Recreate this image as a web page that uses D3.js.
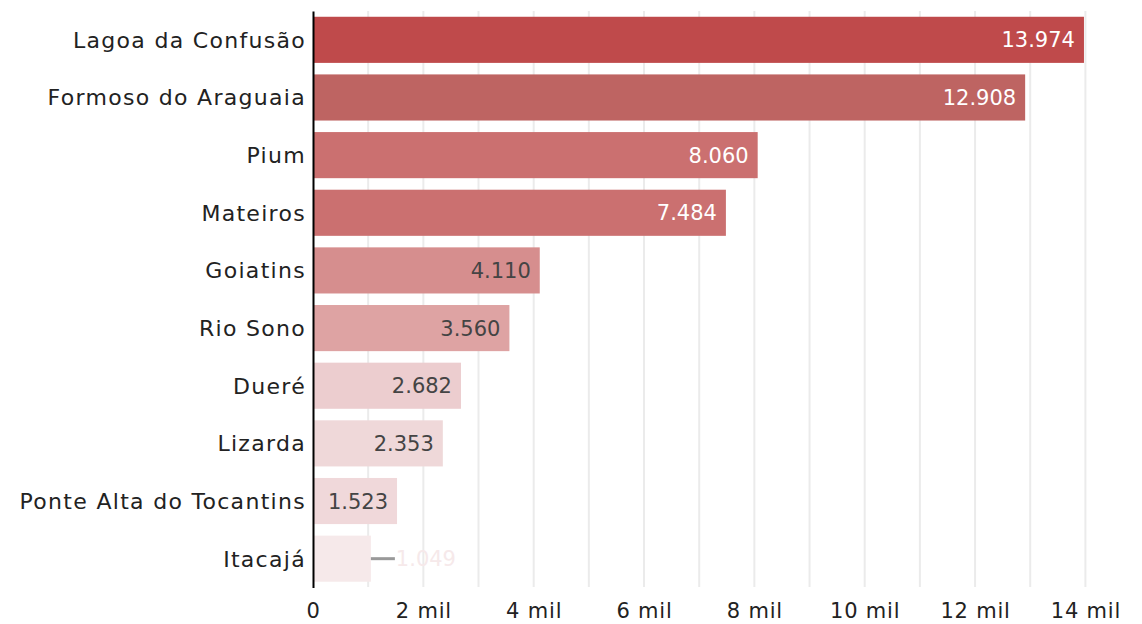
<!DOCTYPE html>
<html><head><meta charset="utf-8">
<script src="https://cdn.jsdelivr.net/npm/d3@7"></script>
<style>html,body{margin:0;padding:0;background:#fff;}svg{display:block;font-family:"DejaVu Sans",sans-serif;}</style>
</head><body>
<svg id="c" width="1142" height="624"></svg>
<script>
const categories = ["Lagoa da Confusão","Formoso do Araguaia","Pium","Mateiros","Goiatins","Rio Sono","Dueré","Lizarda","Ponte Alta do Tocantins","Itacajá"];
const values = [13974,12908,8060,7484,4110,3560,2682,2353,1523,1049];
const tickValues = [0,2000,4000,6000,8000,10000,12000,14000];
const tickLabels = ["0","2 mil","4 mil","6 mil","8 mil","10 mil","12 mil","14 mil"];
const palette = ["#bf4a4b","#be6462","#cb7070","#cb7070","#d68e8e","#dea3a3","#eccdcf","#efd8d9","#f0d8da","#f6e9ea"];

const FONT = "'DejaVu Sans',sans-serif";
const svg = d3.select("#c");
const x = d3.scaleLinear().domain([0,14000]).range([313,1085.4]);
const y = d3.scaleBand().domain(categories).range([11,587.5]).paddingInner(0.2).paddingOuter(0.1);
const fmt = v => d3.format(",")(v).replace(/,/g,".");

// grid
svg.append("g").selectAll("line").data(d3.range(1000,14001,1000)).join("line")
  .attr("x1",d=>x(d)).attr("x2",d=>x(d)).attr("y1",11).attr("y2",587)
  .attr("stroke","#ebebeb").attr("stroke-width",2);

// bars
svg.append("g").selectAll("rect").data(values).join("rect")
  .attr("x",x(0)).attr("y",(d,i)=>y(categories[i]))
  .attr("width",d=>x(d)-x(0)).attr("height",y.bandwidth())
  .attr("fill",(d,i)=>palette[i]);

// value labels
const lab = svg.append("g").attr("font-size",21).attr("font-family",FONT);
values.forEach((v,i)=>{
  const cy = y(categories[i]) + y.bandwidth()/2;
  const w = x(v)-x(0);
  if (w > 70) {
    lab.append("text").attr("x",x(v)-9).attr("y",cy).attr("dy","0.36em")
      .attr("text-anchor","end").attr("fill", i<4 ? "#ffffff" : "#444444").text(fmt(v));
  } else {
    lab.append("line").attr("x1",x(v)).attr("x2",x(v)+24).attr("y1",cy).attr("y2",cy)
      .attr("stroke","#999").attr("stroke-width",3);
    lab.append("text").attr("x",x(v)+25).attr("y",cy).attr("dy","0.36em")
      .attr("text-anchor","start").attr("fill",palette[i]).text(fmt(v));
  }
});

// y axis
const ya = svg.append("g").attr("transform",`translate(${x(0)},0)`)
  .call(d3.axisLeft(y).tickSize(0).tickPadding(7));
ya.select(".domain").attr("stroke","#000").attr("stroke-width",2);
ya.selectAll("text").attr("font-size",22).attr("letter-spacing","1.3px").attr("fill","#222")
  .attr("font-family",FONT).attr("dy","0.36em");

// x axis
const xa = svg.append("g").attr("transform","translate(0,587)")
  .call(d3.axisBottom(x).tickValues(tickValues).tickFormat((d,i)=>tickLabels[i]).tickSize(0).tickPadding(16));
xa.select(".domain").remove();
xa.selectAll("text").attr("font-size",21).attr("letter-spacing","0.8px").attr("fill","#222").attr("font-family",FONT);
</script>
</body></html>
